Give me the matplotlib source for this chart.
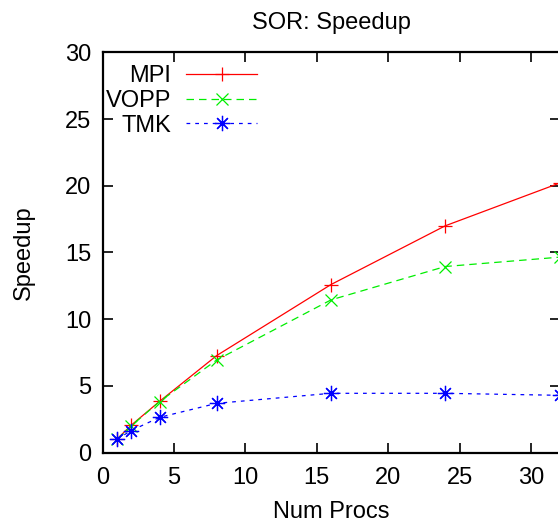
import matplotlib
matplotlib.use("Agg")
import matplotlib.pyplot as plt

plt.rcParams['font.family'] = ['Liberation Sans', 'DejaVu Sans']

procs = [1, 2, 4, 8, 16, 24, 32]
mpi = [1.0, 2.05, 3.85, 7.28, 12.6, 17.0, 20.2]
vopp = [1.0, 2.0, 3.83, 6.95, 11.45, 13.95, 14.65]
tmk = [1.0, 1.65, 2.65, 3.7, 4.45, 4.45, 4.3]

title = "SOR: Speedup"
xlabel = "Num Procs"
ylabel = "Speedup"
xticks = [0, 5, 10, 15, 20, 25, 30]
yticks = [0, 5, 10, 15, 20, 25, 30]

W, H = 558, 526
fig = plt.figure(figsize=(W / 100, H / 100), dpi=100)
ax = fig.add_axes([102.5 / W, (H - 452.7) / H, 457 / W, (452.7 - 52.3) / H])

fs = 17
ax.plot(procs, mpi, color='#ff0000', lw=0.9, ls='-', marker='+', ms=10, mew=0.9,
        label='MPI', clip_on=False)
ax.plot(procs, vopp, color='#00ee00', lw=0.9, ls=(0, (6, 4)), marker='x', ms=9, mew=0.9,
        label='VOPP', clip_on=False)
ax.plot(procs, tmk, color='#0000ff', lw=0.9, ls=(0, (3, 4)), marker=(8, 2, 0), ms=11, mew=0.9,
        label='TMK', clip_on=False)

ax.set_xlim(0, 32)
ax.set_ylim(0, 30)
ax.set_xticks(xticks)
ax.set_yticks(yticks)
ax.tick_params(direction='in', length=7, width=1.2, top=True, right=True,
               labelsize=fs, pad=8)
ax.tick_params(axis='x', pad=10)
for s in ax.spines.values():
    s.set_linewidth(1.6)

ax.set_title(title, fontsize=fs, pad=17)
ax.set_xlabel(xlabel, fontsize=fs, labelpad=9)
ax.set_ylabel(ylabel, fontsize=fs, labelpad=21.5)

leg = ax.legend(loc='upper right', bbox_to_anchor=(257 / W, (H - 65) / H),
                bbox_transform=fig.transFigure, frameon=False, markerfirst=False,
                fontsize=fs, handlelength=3.0, handletextpad=0.65, labelspacing=0.12,
                borderpad=0, borderaxespad=0)

fig.savefig('out.png', dpi=100)
